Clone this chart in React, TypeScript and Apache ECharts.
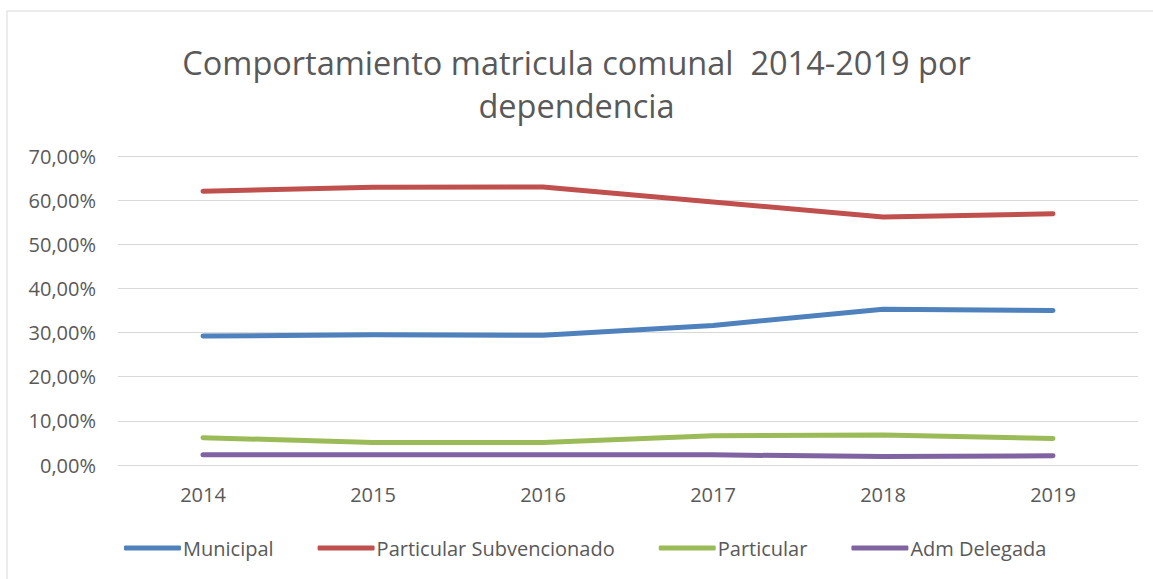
import React, { useEffect, useRef } from "react";
import * as echarts from "echarts";

const categories = ["2014", "2015", "2016", "2017", "2018", "2019"];
const municipal = [29.2, 29.5, 29.4, 31.6, 35.3, 35.0];
const particularSubvencionado = [62.0, 62.9, 63.0, 59.6, 56.2, 56.9];
const particular = [6.2, 5.1, 5.1, 6.6, 6.8, 6.0];
const admDelegada = [2.3, 2.3, 2.3, 2.3, 1.9, 2.1];
const seriesNames = ["Municipal", "Particular Subvencionado", "Particular", "Adm Delegada"];
const colors = ["#4f81bd", "#c0504d", "#9bbb59", "#8064a2"];

export default function App() {
  const ref = useRef<HTMLDivElement>(null);
  useEffect(() => {
    if (!ref.current) return;
    const chart = echarts.init(ref.current, null, { renderer: "svg" });
    const data = [municipal, particularSubvencionado, particular, admDelegada];
    const font = "Open Sans";
    chart.setOption({
      animation: false,
      backgroundColor: "#ffffff",
      graphic: [
        {
          type: "rect",
          shape: { x: 7, y: 11, width: 1160, height: 600 },
          style: { fill: "none", stroke: "#d9d9d9", lineWidth: 1 },
          silent: true,
        },
      ],
      title: {
        text: "Comportamiento matricula comunal  2014-2019 por\ndependencia",
        left: "center",
        top: 36,
        textStyle: {
          fontFamily: font,
          fontSize: 32.5,
          fontWeight: "normal",
          color: "#595959",
          lineHeight: 43,
        },
      },
      legend: {
        top: 533,
        left: 119,
        itemWidth: 57,
        itemHeight: 5,
        itemGap: 44,
        icon: "roundRect",
        data: seriesNames,
        textStyle: { fontFamily: font, fontSize: 20, color: "#595959", padding: [0, 0, 0, -3] },
      },
      grid: { left: 118, right: 15, top: 156, bottom: 114 },
      xAxis: {
        type: "category",
        data: categories,
        boundaryGap: true,
        axisLine: { show: true, lineStyle: { color: "#d9d9d9", width: 1 } },
        axisTick: { show: false },
        axisLabel: { fontFamily: font, fontSize: 20, color: "#595959", margin: 19 },
      },
      yAxis: {
        type: "value",
        min: 0,
        max: 70,
        interval: 10,
        axisLine: { show: false },
        axisTick: { show: false },
        splitLine: { lineStyle: { color: "#d9d9d9", width: 1 } },
        axisLabel: {
          fontFamily: font,
          fontSize: 20,
          color: "#595959",
          margin: 22,
          formatter: (v: number) => v.toFixed(2).replace(".", ",") + "%",
        },
      },
      series: seriesNames.map((name, i) => ({
        name,
        type: "line",
        data: data[i],
        symbol: "none",
        color: colors[i],
        lineStyle: { width: 5, color: colors[i], cap: "round", join: "round" },
      })),
    });
    return () => chart.dispose();
  }, []);
  return (
    <div
      ref={ref}
      style={{ position: "fixed", left: 0, top: 0, width: 1153, height: 579 }}
    />
  );
}
